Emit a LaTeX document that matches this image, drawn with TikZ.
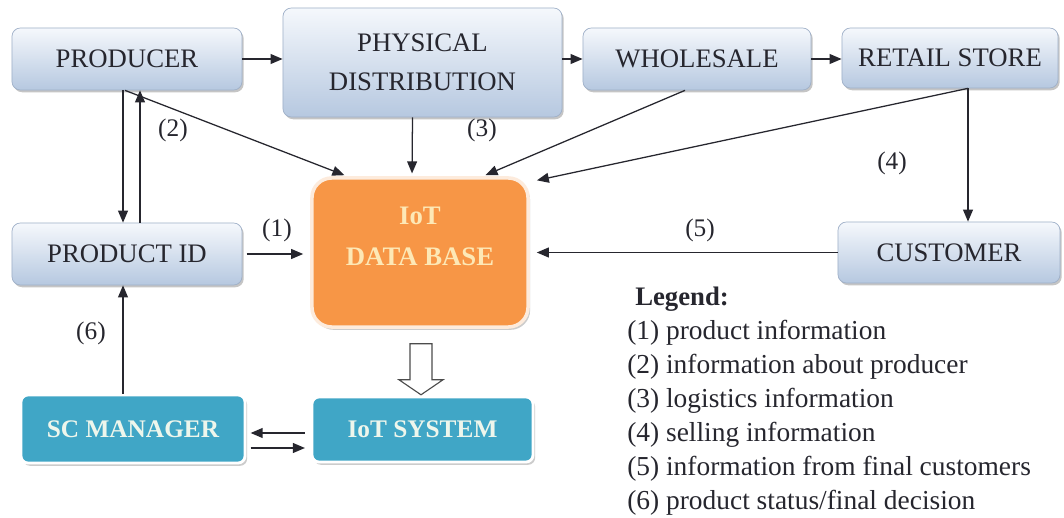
\documentclass[tikz,border=0pt]{standalone}
\usepackage{fontspec}
\setmainfont{Liberation Serif}
\usetikzlibrary{arrows.meta,calc,shadows}

\definecolor{boxtop}{HTML}{F5F8FC}
\definecolor{boxbot}{HTML}{B6C8E0}
\definecolor{boxedge}{HTML}{9FB0C8}
\definecolor{dborange}{HTML}{F79646}
\definecolor{dbrim}{HTML}{FDEBDC}
\definecolor{dbtext}{HTML}{FDE8B6}
\definecolor{sysblue}{HTML}{40A6C6}
\definecolor{systext}{HTML}{EEF6EC}
\definecolor{ink}{HTML}{26262E}

\tikzset{
  boxfont/.style={font=\fontsize{19}{28}\selectfont},
  flowbox/.style={rectangle, rounded corners=6pt, top color=boxtop, bottom color=boxbot,
    draw=boxedge, line width=0.5pt, text=ink, boxfont, align=center, inner sep=0pt,
    drop shadow={shadow xshift=1.2pt, shadow yshift=-1.6pt, opacity=0.45}},
  dbbox/.style={rectangle, rounded corners=14pt, fill=dborange, draw=dbrim, line width=2.5pt,
    inner sep=0pt, drop shadow={shadow xshift=1.5pt, shadow yshift=-2pt, opacity=0.4}},
  dblabel/.style={text=dbtext, font=\bfseries\fontsize{19}{29}\selectfont, align=center},
  sysbox/.style={rectangle, rounded corners=5pt, fill=sysblue, draw=white, line width=2pt,
    text=systext, font=\bfseries\fontsize{18}{23}\selectfont, inner sep=0pt,
    drop shadow={shadow xshift=1.5pt, shadow yshift=-2pt, opacity=0.4}},
  flow/.style={draw=ink, line width=0.9pt, -{Triangle[length=8.5pt,width=7pt]}},
  tag/.style={text=ink, font=\fontsize{18}{20}\selectfont},
  legitem/.style={text=ink, font=\fontsize{19.5}{20}\selectfont, anchor=base west, inner sep=0pt},
  hollow/.style={draw=black!70, line width=0.8pt, fill=white, line join=miter}
}

\begin{document}
\begin{tikzpicture}[x=0.025cm, y=-0.025cm]
  \useasboundingbox (0,0) rectangle (1064,518);
  \fill[white] (0,0) rectangle (1064,518);

  % supply chain row
  \node[flowbox, minimum width=5.75cm, minimum height=1.55cm]  (prod)   at (127,59)    {PRODUCER};
  \node[flowbox, minimum width=6.975cm, minimum height=2.725cm] (phys)  at (422.5,62.5) {PHYSICAL\\DISTRIBUTION};
  \node[flowbox, minimum width=5.7cm,  minimum height=1.55cm]  (whole)  at (697,59)    {WHOLESALE};
  \node[flowbox, minimum width=5.4cm,  minimum height=1.5cm]   (retail) at (950,58)    {RETAIL STORE};

  % middle row
  \node[flowbox, minimum width=5.75cm, minimum height=1.55cm]  (pid)    at (127,254)   {PRODUCT ID};
  \node[dbbox,   minimum width=5.4cm,  minimum height=3.725cm] (db)     at (420,252.5) {};
  \node[dblabel] (dbtitle) at ($(db.center)+(0,-16)$) {IoT\\DATA BASE};
  \node[flowbox, minimum width=5.55cm, minimum height=1.525cm] (cust)   at (949,252.5) {CUSTOMER};

  % bottom row
  \node[sysbox, minimum width=5.6cm,   minimum height=1.7cm]   (scm)    at (133,429)   {SC MANAGER};
  \node[sysbox, minimum width=5.525cm, minimum height=1.625cm] (iots)   at (422.5,429.5) {IoT SYSTEM};

  % physical flow
  \draw[flow] (prod.east) -- (prod.east -| phys.west);
  \draw[flow] (phys.east |- whole.west) -- (whole.west);
  \draw[flow] (whole.east) -- (whole.east -| retail.west);

  % producer <-> product id
  \coordinate (pdn) at ($(prod.south)+(-4,0)$);
  \coordinate (pup) at ($(prod.south)+(13,0)$);
  \draw[flow] (pdn) -- (pdn |- pid.north);
  \draw[flow] (pup |- pid.north) -- (pup);

  % information into the data base
  \draw[flow, shorten >=2pt] ($(prod.south)+(-2,0)$) -- ($(db.north)+(-73,0)$);
  \draw[flow, shorten >=2pt] ($(phys.south)+(-10,0)$) -- ($(db.north)+(-8,0)$);
  \draw[flow, shorten >=2pt] ($(whole.south)+(-12,0)$) -- ($(db.north)+(63,0)$);
  \coordinate (rdn) at ($(retail.south)+(18,0)$);
  \draw[flow, shorten >=3pt] (rdn) -- ($(db.north east)+(3,5)$);
  \draw[flow] (rdn) -- (rdn |- cust.north);
  \draw[flow, shorten >=5pt] (cust.west) -- (cust.west -| db.east);
  \draw[flow, shorten <=3pt, shorten >=5pt] (pid.east) -- (pid.east -| db.west);

  % manager loop
  \coordinate (mup) at ($(scm.north)+(-10,0)$);
  \draw[flow] (mup) -- (mup |- pid.south);
  \coordinate (sysout) at ($(iots.west)+(0,3.5)$);
  \coordinate (mgrout) at ($(scm.east)+(0,19)$);
  \draw[flow, shorten <=4pt, shorten >=3pt] (sysout) -- (sysout -| scm.east);
  \draw[flow, shorten <=3pt, shorten >=4pt] (mgrout) -- (mgrout -| iots.west);

  % data base feeds the IoT system
  \draw[hollow] ($(db.south)+(-10,15)$) -- ($(db.south)+(12,15)$) -- ($(db.south)+(12,51)$)
    -- ($(db.south)+(23,51)$) -- ($(db.south)+(1,66)$) -- ($(db.south)+(-21,51)$)
    -- ($(db.south)+(-10,51)$) -- cycle;

  % flow tags
  \node[tag] (t1) at (277,230) {(1)};
  \node[tag] (t2) at (173,130) {(2)};
  \node[tag] (t3) at (482,130) {(3)};
  \node[tag] (t4) at (892,163) {(4)};
  \node[tag] (t5) at (700,230) {(5)};
  \node[tag] (t6) at (91,333)  {(6)};

  % legend
  \node[legitem, font=\bfseries\fontsize{19}{20}\selectfont] (legt) at (635,305) {Legend:};
  \node[legitem] (leg1) at (627,339) {(1) product information};
  \node[legitem] (leg2) at (627,373) {(2) information about producer};
  \node[legitem] (leg3) at (627,407) {(3) logistics information};
  \node[legitem] (leg4) at (627,441) {(4) selling information};
  \node[legitem] (leg5) at (627,475) {(5) information from final customers};
  \node[legitem] (leg6) at (627,509) {(6) product status/final decision};
\end{tikzpicture}
\end{document}
